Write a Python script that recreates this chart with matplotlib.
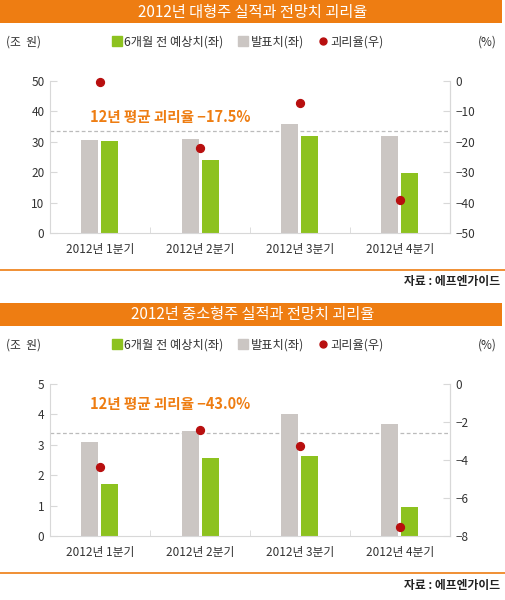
import numpy as np
import matplotlib
matplotlib.use("Agg")
from matplotlib import pyplot as plt
from matplotlib.patches import Rectangle
from matplotlib.lines import Line2D

plt.rcParams['font.family'] = ['Noto Sans CJK KR', 'DejaVu Sans']
plt.rcParams['axes.unicode_minus'] = True

quarters = ["2012년 1분기", "2012년 2분기", "2012년 3분기", "2012년 4분기"]

# 대형주
large_title = "2012년 대형주 실적과 전망치 괴리율"
large_actual = [30.7, 30.8, 35.8, 32.0]      # 발표치 (gray)
large_forecast = [30.4, 23.9, 31.8, 19.6]    # 6개월 전 예상치 (green)
large_gap = [-0.2, -22.0, -7.1, -39.0]       # 괴리율 (right axis)
large_avg_text = "12년 평균 괴리율 −17.5%"
large_avg_level = 33.5
large_left_ticks = [0, 10, 20, 30, 40, 50]
large_right_ticks = [0, -10, -20, -30, -40, -50]

# 중소형주
small_title = "2012년 중소형주 실적과 전망치 괴리율"
small_actual = [3.08, 3.45, 4.01, 3.67]
small_forecast = [1.72, 2.57, 2.62, 0.95]
small_gap = [-4.38, -2.43, -3.27, -7.51]
small_avg_text = "12년 평균 괴리율 −43.0%"
small_avg_level = 3.38
small_left_ticks = [0, 1, 2, 3, 4, 5]
small_right_ticks = [0, -2, -4, -6, -8]

ORANGE = "#EE7D12"
GREEN = "#8DC21F"
GRAY = "#CBC6C3"
RED = "#B80F0F"
TXT = "#333333"
SPINE = "#D8D8D8"

W, H = 506, 600
fig = plt.figure(figsize=(W / 100, H / 100), dpi=100)


def fx(px):
    return px / W


def fy(py):
    return 1 - py / H


def panel(top_px, title, actual, forecast, gap, avg_text, avg_level,
          lticks, rticks, note_y):
    # title bar
    fig.add_artist(Rectangle((0, fy(top_px + 23)), fx(502), 23 / H,
                             transform=fig.transFigure, color=ORANGE, lw=0))
    fig.text(fx(253), fy(top_px + 12), title, color="white", fontsize=11,
             ha="center", va="center")
    fig.text(fx(6), fy(top_px + 42), "(조  원)", color=TXT, fontsize=8.5,
             ha="left", va="center")
    fig.text(fx(497), fy(top_px + 42), "(%)", color=TXT, fontsize=8.5,
             ha="right", va="center")
    handles = [
        Line2D([], [], marker="s", ls="", color=GREEN, markersize=7),
        Line2D([], [], marker="s", ls="", color=GRAY, markersize=7),
        Line2D([], [], marker="o", ls="", color=RED, markersize=5),
    ]
    fig.legend(handles, ["6개월 전 예상치(좌)", "발표치(좌)", "괴리율(우)"],
               loc="center", bbox_to_anchor=(fx(248), fy(top_px + 42)),
               ncol=3, frameon=False, fontsize=8.8, handlelength=0.8,
               handletextpad=0.2, columnspacing=1.2, labelcolor=TXT)

    ax_top = top_px + 81
    ax_bot = top_px + 233
    ax = fig.add_axes([fx(50), fy(ax_bot), fx(400), (ax_bot - ax_top) / H])
    x = np.arange(len(quarters))
    ax.bar(x - 0.1, actual, width=0.17, color=GRAY, zorder=2)
    ax.bar(x + 0.1, forecast, width=0.17, color=GREEN, zorder=2)
    ax.axhline(avg_level, color="#BBBBBB", lw=0.9, ls=(0, (3, 2)), zorder=1)
    ax.set_xlim(-0.5, len(quarters) - 0.5)
    ax.set_ylim(lticks[0], lticks[-1])
    ax.set_yticks(lticks)
    ax.set_xticks(x)
    ax.set_xticklabels(quarters)
    ax.set_xticks(np.arange(len(quarters) - 1) + 0.5, minor=True)
    ax.tick_params(axis="x", which="major", length=0, pad=7,
                   labelsize=8.5, labelcolor=TXT)
    ax.tick_params(axis="x", which="minor", direction="in", length=4,
                   color=SPINE)
    ax.tick_params(axis="y", direction="in", length=5, color=SPINE,
                   labelsize=8.5, labelcolor=TXT, pad=4)
    ax.spines["top"].set_visible(False)
    for s in ["left", "bottom", "right"]:
        ax.spines[s].set_color(SPINE)
    ax.patch.set_alpha(0)

    ax2 = ax.twinx()
    ax2.scatter(x, gap, s=32, color=RED, zorder=3, clip_on=False)
    ax2.set_ylim(rticks[-1], rticks[0])
    ax2.set_yticks(rticks)
    ax2.set_yticklabels([str(t).replace("-", "−") for t in rticks])
    ax2.tick_params(axis="y", direction="in", length=5, color=SPINE,
                    labelsize=8.5, labelcolor=TXT, pad=4)
    for s in ["top", "left", "bottom"]:
        ax2.spines[s].set_visible(False)
    ax2.spines["right"].set_color(SPINE)

    ax.text(0.1, note_y, avg_text, transform=ax.transAxes, color=ORANGE,
            fontsize=10.5, fontweight="bold", ha="left", va="center")

    # source line
    fig.add_artist(Line2D([0, 1], [fy(top_px + 270), fy(top_px + 270)],
                          transform=fig.transFigure, color=ORANGE, lw=1.2))
    fig.text(fx(500), fy(top_px + 282), "자료 : 에프엔가이드", color="#222222",
             fontsize=8.5, fontweight="bold", ha="right", va="center")


panel(0, large_title, large_actual, large_forecast, large_gap,
      large_avg_text, large_avg_level, large_left_ticks, large_right_ticks,
      0.76)
panel(303, small_title, small_actual, small_forecast, small_gap,
      small_avg_text, small_avg_level, small_left_ticks, small_right_ticks,
      0.87)

fig.savefig("out.png", dpi=100, facecolor="white")
